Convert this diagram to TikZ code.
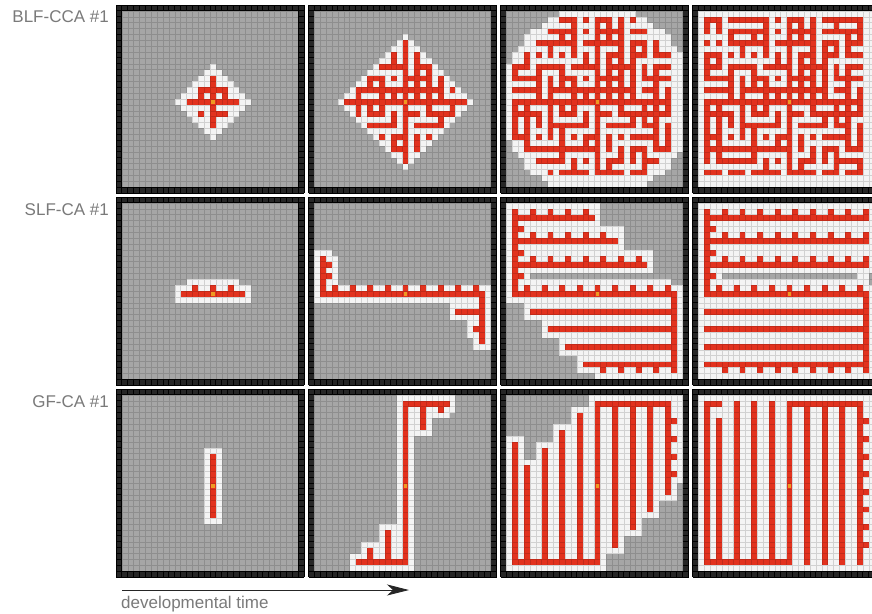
\documentclass[tikz,border=0pt]{standalone}
\usepackage{fontspec}
\setmainfont{Liberation Sans}
\usetikzlibrary{arrows.meta}
\definecolor{cgray}{HTML}{A6A6A6}
\definecolor{cwhite}{HTML}{F4F4F4}
\definecolor{cred}{HTML}{E2321E}
\definecolor{corange}{HTML}{EE9A22}
\definecolor{cborder}{HTML}{262626}
\definecolor{ctext}{HTML}{7A7A7A}
\tikzset{
  lab/.style={font=\fontsize{17}{20}\selectfont, text=ctext, inner sep=0pt},
  timearrow/.style={line width=0.9pt, black!85, -{Stealth[length=22pt,width=11pt,inset=6pt]}},
  bordergrid/.style={black, line width=0.9pt},
  cellgrid/.style={black, opacity=0.14, line width=0.45pt},
}
% fill rectangles of cells: list of c1/r1/c2/r2
\newcommand\cellsin[2]{\foreach \xa/\ya/\xb/\yb in {#2}{\fill[#1] (\xa,\ya) rectangle ({\xb+1},{\yb+1});}}
% one panel: #1,#2 top-left of black frame (px), #3 content
\newcommand\capanel[3]{%
  \begin{scope}[shift={(#1+5.875,#2+5.875)},x=5.875pt,y=-5.875pt]
    \fill[cborder] (-1,-1) rectangle (31,31);
    \draw[bordergrid] \foreach \k in {-1,...,31}{(\k,-1) -- (\k,31) (-1,\k) -- (31,\k)};
    \fill[cgray] (0,0) rectangle (30,30);
    #3
    \fill[corange] (15.2,15.2) rectangle (15.8,15.8);
    \draw[cellgrid] \foreach \k in {0,...,30}{(\k,0) -- (\k,30) (0,\k) -- (30,\k)};
  \end{scope}}
% region test: #1 c, #2 r, #3 mode (1 diamond, 2 circle, 3 full), #4 radius
\newcommand\blftest[4]{%
  \pgfmathtruncatemacro\blfres{(#3==3) ? 1 : ((#3==1) ? (abs(#1-15)+abs(#2-15)<=#4-1) : ((#1-15)^2+(#2-15)^2<=(#4-1)^2))}%
}
% branching maze panel
\newcommand\blf[2]{%
  \ifnum#1=3
    \fill[cwhite] (0,0) rectangle (30,30);
  \else
    \foreach \rr in {0,...,29}{%
      \pgfmathtruncatemacro\dy{abs(\rr-15)}%
      \pgfmathtruncatemacro\ww{(#1==1) ? (#2-\dy) : ((#2*#2>=\dy*\dy) ? floor(sqrt(max(0,#2*#2-\dy*\dy))) : -1)}%
      \ifnum\ww>-1
        \pgfmathtruncatemacro\lo{max(0,15-\ww)}%
        \pgfmathtruncatemacro\hi{min(30,16+\ww)}%
        \fill[cwhite] (\lo,\rr) rectangle (\hi,\rr+1);
      \fi
    }%
  \fi
  \pgfmathsetseed{4711}%
  \foreach \ma in {1,3,...,27}{%
    \foreach \mb in {1,3,...,27}{%
      \pgfmathrandominteger{\rx}{0}{99}%
      \pgfmathrandominteger{\ry}{0}{99}%
      \blftest{\ma}{\mb}{#1}{#2}\let\inA\blfres
      \ifnum\inA=1 \fill[cred] (\ma,\mb) rectangle ++(1,1); \fi
      \ifnum\ma<27
        \pgfmathtruncatemacro\na{\ma+2}%
        \blftest{\na}{\mb}{#1}{#2}\let\inB\blfres
        \pgfmathtruncatemacro\conR{\inA*\inB*(((\rx<55)||(\mb==15)) ? 1 : 0)}%
        \ifnum\conR=1 \fill[cred] (\ma+1,\mb) rectangle ++(1,1); \fi
      \fi
      \ifnum\mb<27
        \pgfmathtruncatemacro\nb{\mb+2}%
        \blftest{\ma}{\nb}{#1}{#2}\let\inC\blfres
        \pgfmathtruncatemacro\conD{\inA*\inC*(((\ry<55)||(\ma==15)) ? 1 : 0)}%
        \ifnum\conD=1 \fill[cred] (\ma,\mb+1) rectangle ++(1,1); \fi
      \fi
    }%
  }%
}
\begin{document}
\begin{tikzpicture}[x=1pt,y=-1pt]
\useasboundingbox (0,0) rectangle (872,613);
\fill[white] (0,0) rectangle (872,613);
\clip (0,0) rectangle (872,613);

% ---------- row 1: BLF-CCA ----------
\capanel{116}{5}{\blf{1}{6}}
\capanel{308.5}{5}{\blf{1}{11}}
\capanel{500.5}{5}{\blf{2}{16.3}}
\capanel{692.5}{5}{\blf{3}{99}}

% ---------- row 2: SLF-CA ----------
\capanel{116}{197}{%
  \cellsin{cwhite}{11/13/19/13, 9/14/21/16}
  \cellsin{cred}{10/15/20/15, 12/14/12/14, 15/14/15/14, 18/14/18/14}
}
\capanel{308.5}{197}{%
  \cellsin{cwhite}{0/8/2/8, 0/9/3/13, 0/14/29/16, 23/17/29/19, 26/20/29/22, 27/23/29/24}
  \cellsin{cred}{1/9/1/15, 2/10/2/10, 2/12/2/12, 1/15/28/15, 28/15/28/23, 24/18/27/18, 27/21/27/21}
  \foreach \cc in {3,6,...,27}{\fill[cred] (\cc,14) rectangle ++(1,1);}
}
\capanel{500.5}{197}{%
  \cellsin{cwhite}{0/0/15/3, 0/4/19/7, 0/8/24/11, 0/12/3/12, 0/13/27/13, 0/14/29/16, 3/17/29/19, 6/20/29/22, 9/23/29/25, 12/26/29/28, 15/29/29/29}
  \cellsin{cred}{1/1/1/15, 1/2/14/2, 1/6/18/6, 1/10/23/10, 2/4/2/4, 2/8/2/8, 2/12/2/12, 1/15/28/15, 28/15/28/28, 4/18/28/18, 7/21/28/21, 10/24/28/24, 13/27/28/27}
  \foreach \cc in {4,7,10,13}{\fill[cred] (\cc,1) rectangle ++(1,1);}
  \foreach \cc in {4,7,...,16}{\fill[cred] (\cc,5) rectangle ++(1,1);}
  \foreach \cc in {4,7,...,22}{\fill[cred] (\cc,9) rectangle ++(1,1);}
  \foreach \cc in {3,6,...,27}{\fill[cred] (\cc,14) rectangle ++(1,1);}
  \foreach \cc in {16,19,22,25}{\fill[cred] (\cc,28) rectangle ++(1,1);}
}
\capanel{692.5}{197}{%
  \cellsin{cwhite}{0/0/29/29}
  \cellsin{cgray}{4/12/26/12, 29/12/29/13}
  \cellsin{cred}{1/1/1/15, 1/2/28/2, 1/6/28/6, 1/10/28/10, 2/4/2/4, 2/8/2/8, 2/12/2/12, 1/15/28/15, 28/15/28/28, 1/18/28/18, 1/21/28/21, 1/24/28/24, 1/27/28/27}
  \foreach \rw in {1,5,9}{\foreach \cc in {4,7,...,28}{\fill[cred] (\cc,\rw) rectangle ++(1,1);}}
  \foreach \cc in {3,6,...,27}{\fill[cred] (\cc,14) rectangle ++(1,1);}
  \foreach \cc in {4,7,...,25}{\fill[cred] (\cc,28) rectangle ++(1,1);}
}

% ---------- row 3: GF-CA ----------
\capanel{116}{389}{%
  \cellsin{cwhite}{14/9/16/21}
  \cellsin{cred}{15/10/15/20}
}
\capanel{308.5}{389}{%
  \cellsin{cwhite}{14/0/23/2, 14/3/22/3, 14/4/19/6, 14/7/16/21, 11/22/16/24, 8/25/16/26, 6/27/16/29}
  \cellsin{cred}{15/1/15/28, 15/1/22/1, 18/2/18/5, 21/2/21/2, 7/28/15/28, 9/26/9/27, 12/23/12/27}
}
\capanel{500.5}{389}{%
  \cellsin{cwhite}{0/7/2/29, 3/11/4/29, 5/8/7/29, 8/5/10/29, 11/2/13/29, 14/0/16/29, 17/0/19/26, 20/0/22/23, 23/0/25/20, 26/0/28/17, 29/0/29/14}
  \cellsin{cred}{1/8/1/28, 3/12/3/28, 6/9/6/28, 9/6/9/28, 12/3/12/28, 15/1/15/28, 1/28/15/28, 15/1/27/1, 18/1/18/25, 21/1/21/22, 24/1/24/19, 27/1/27/16}
  \foreach \rw in {4,7,10,13}{\fill[cred] (28,\rw) rectangle ++(1,1);}
}
\capanel{692.5}{389}{%
  \cellsin{cwhite}{0/0/29/29}
  \cellsin{cred}{1/1/1/28, 1/1/3/1, 3/4/3/28, 6/1/6/28, 9/1/9/28, 12/1/12/28, 15/1/15/28, 18/1/18/28, 21/1/21/28, 24/1/24/28, 27/1/27/28, 15/1/27/1, 1/28/15/28}
  \foreach \rw in {4,7,...,25}{\fill[cred] (28,\rw) rectangle ++(1,1);}
}

% ---------- labels ----------
\node[lab, anchor=base east] (lblf) at (109,23) {BLF-CCA \#1};
\node[lab, anchor=base east] (lslf) at (109,215) {SLF-CA \#1};
\node[lab, anchor=base east] (lgf) at (109,407) {GF-CA \#1};
\node[lab, anchor=base west] (ldev) at (121,608) {developmental time};
\coordinate (t0) at (122,590);
\coordinate (t1) at (409,590);
\draw[timearrow] (t0) -- (t1);
\end{tikzpicture}
\end{document}
